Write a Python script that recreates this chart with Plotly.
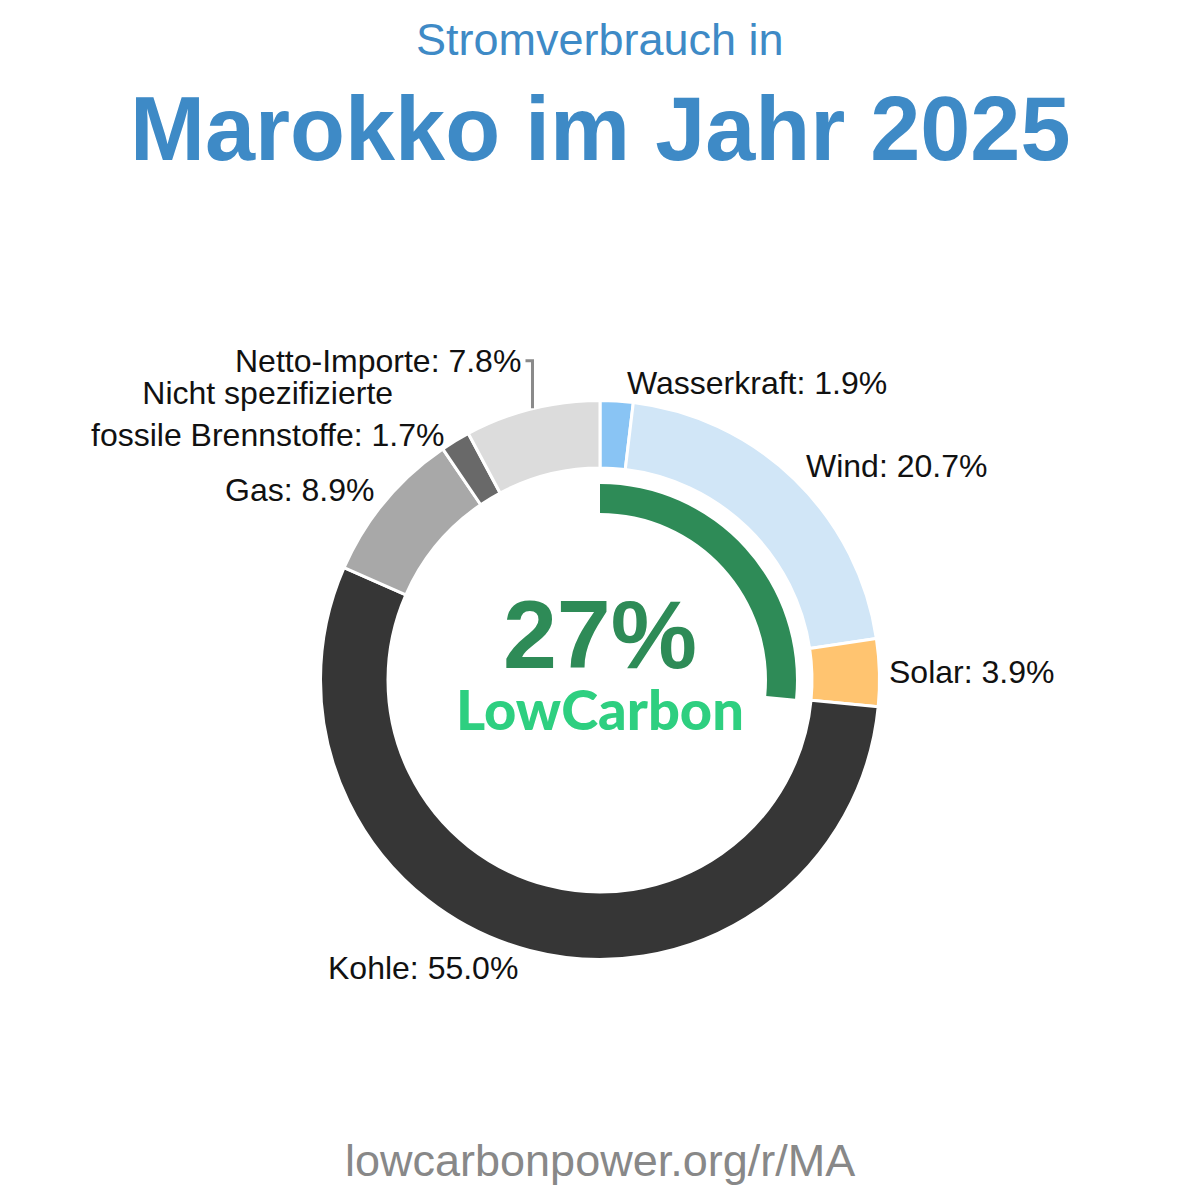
import math
import textwrap
import plotly.graph_objects as go

# ---------------- data ----------------
categories = ["Wasserkraft", "Wind", "Solar", "Kohle", "Gas",
              "Nicht spezifizierte fossile Brennstoffe", "Netto-Importe"]
shares = [1.9, 20.7, 3.9, 55.0, 8.9, 1.7, 7.8]
colors = ["#89c4f4", "#d1e6f7", "#ffc470", "#363636", "#a8a8a8", "#696969", "#dcdcdc"]
low_carbon = ["Wasserkraft", "Wind", "Solar"]
title_line1 = "Stromverbrauch in"
title_line2 = "Marokko im Jahr 2025"
badge_text = "LowCarbon"
source_text = "lowcarbonpower.org/r/MA"

# ---------------- layout constants ----------------
W = H = 1200
CX, CY = 600, 680
R_DOM = 279.5          # pie domain radius (white stroke eats ~1.5px)
R_OUT = 278            # visible outer radius
HOLE = 212 / R_DOM
R_ARC = 196
ARC_HOLE = 0.852
LABEL_FONT = 32
LINE_H = LABEL_FONT * 1.3
FONT = "Liberation Sans, Arial, sans-serif"
TITLE_COLOR = "#3e8ac6"
GREEN = "#2e8b57"
BADGE_GREEN = "#2ecf80"


def px(x):
    return x / W


def py(y):
    return 1 - y / H


total = sum(shares)
lc_share = sum(v for c, v in zip(categories, shares) if c in low_carbon)
lc_text = f"{int(math.floor(lc_share + 0.5))}%"

fig = go.Figure()
fig.add_trace(go.Pie(
    values=shares, labels=categories, sort=False, direction="clockwise", rotation=0,
    hole=HOLE, textinfo="none", hoverinfo="label+percent", showlegend=False,
    marker=dict(colors=colors, line=dict(color="white", width=3)),
    domain=dict(x=[px(CX - R_DOM), px(CX + R_DOM)], y=[py(CY + R_DOM), py(CY - R_DOM)]),
))
fig.add_trace(go.Pie(
    values=[lc_share, total - lc_share], labels=["low", "rest"], sort=False,
    direction="clockwise", rotation=0, hole=ARC_HOLE, textinfo="none",
    hoverinfo="skip", showlegend=False,
    marker=dict(colors=[GREEN, "rgba(0,0,0,0)"], line=dict(width=0)),
    domain=dict(x=[px(CX - R_ARC), px(CX + R_ARC)], y=[py(CY + R_ARC), py(CY - R_ARC)]),
))

# ---------------- outside labels ----------------
items = []
cum = 0.0
for c, v in zip(categories, shares):
    mid = (cum + v / 2) / total * 2 * math.pi
    cum += v
    s, co = math.sin(mid), math.cos(mid)
    r = R_OUT + 9
    lines = textwrap.wrap(f"{c}: {v:.1f}%", 26)
    n = len(lines)
    ax = CX + r * s + math.copysign(8 * co * co, s)
    ay = CY - r * co - (co * 11 if n == 1 else 0)
    ex, ey = CX + R_OUT * s, CY - R_OUT * co
    if co > 0:
        cyb = ay - (n - 1) * LINE_H / 2
    else:
        cyb = ay + (n - 1) * LINE_H / 2
    items.append(dict(lines=lines, n=n, s=s, ax=ax, cy=cyb, ex=ex, ey=ey,
                      angle=mid, moved=False))

# simple collision handling on the left side (bottom to top)
left = sorted([it for it in items if it["s"] < 0], key=lambda d: d["angle"])
for prev, cur in zip(left, left[1:]):
    prev_top = prev["cy"] - (prev["n"] - 1) * LINE_H / 2
    cur_bottom = cur["cy"] + (cur["n"] - 1) * LINE_H / 2
    if prev_top - cur_bottom < LABEL_FONT:
        shift = cur_bottom - (prev_top - LABEL_FONT)
        cur["cy"] -= shift
        cur["moved"] = True

shapes = []
annotations = []
for it in items:
    right_side = it["s"] >= 0
    x = it["ax"]
    if it["moved"]:
        x = it["ex"] - 9 if not right_side else it["ex"] + 9
        endx = it["ex"] - 7 if not right_side else it["ex"] + 7
        shapes.append(dict(
            type="path", xref="paper", yref="paper",
            path=(f"M {px(it['ex'])},{py(it['ey'] - 2)} L {px(it['ex'])},{py(it['cy'])} "
                  f"L {px(endx)},{py(it['cy'])}"),
            line=dict(color="#8a8a8a", width=3),
        ))
    annotations.append(dict(
        text="<br>".join(it["lines"]), x=px(x), y=py(it["cy"]), xref="paper", yref="paper",
        xanchor="left" if right_side else "right", yanchor="middle", align="center",
        showarrow=False, font=dict(family=FONT, size=LABEL_FONT, color="#111111"),
    ))

# ---------------- titles and centre text ----------------
centre_text = (
    f"<span style='font-size:97px;font-weight:bold;color:{GREEN}'>{lc_text}</span><br>"
    f"<span style='font-family:Lato, sans-serif;font-size:56px;font-weight:900;"
    f"color:{BADGE_GREEN}'>{badge_text}</span>"
)
annotations += [
    dict(text=title_line1, x=0.5, y=py(40), xref="paper", yref="paper", showarrow=False,
         xanchor="center", yanchor="middle", font=dict(family=FONT, size=45, color=TITLE_COLOR)),
    dict(text=title_line2, x=0.5, y=py(129), xref="paper", yref="paper", showarrow=False,
         xanchor="center", yanchor="middle",
         font=dict(family=FONT, size=90, color=TITLE_COLOR, weight=700)),
    dict(text=centre_text, x=0.5, y=py(661), xref="paper", yref="paper", showarrow=False,
         xanchor="center", yanchor="middle", align="center",
         font=dict(family=FONT, size=48, color=GREEN)),
    dict(text=source_text, x=0.5, y=py(1160), xref="paper", yref="paper", showarrow=False,
         xanchor="center", yanchor="middle", font=dict(family=FONT, size=45, color="#888888")),
]

fig.update_layout(
    width=W, height=H, autosize=False,
    margin=dict(l=0, r=0, t=0, b=0),
    paper_bgcolor="white", plot_bgcolor="white",
    annotations=annotations, shapes=shapes, showlegend=False,
)

fig.write_html("out.html")
